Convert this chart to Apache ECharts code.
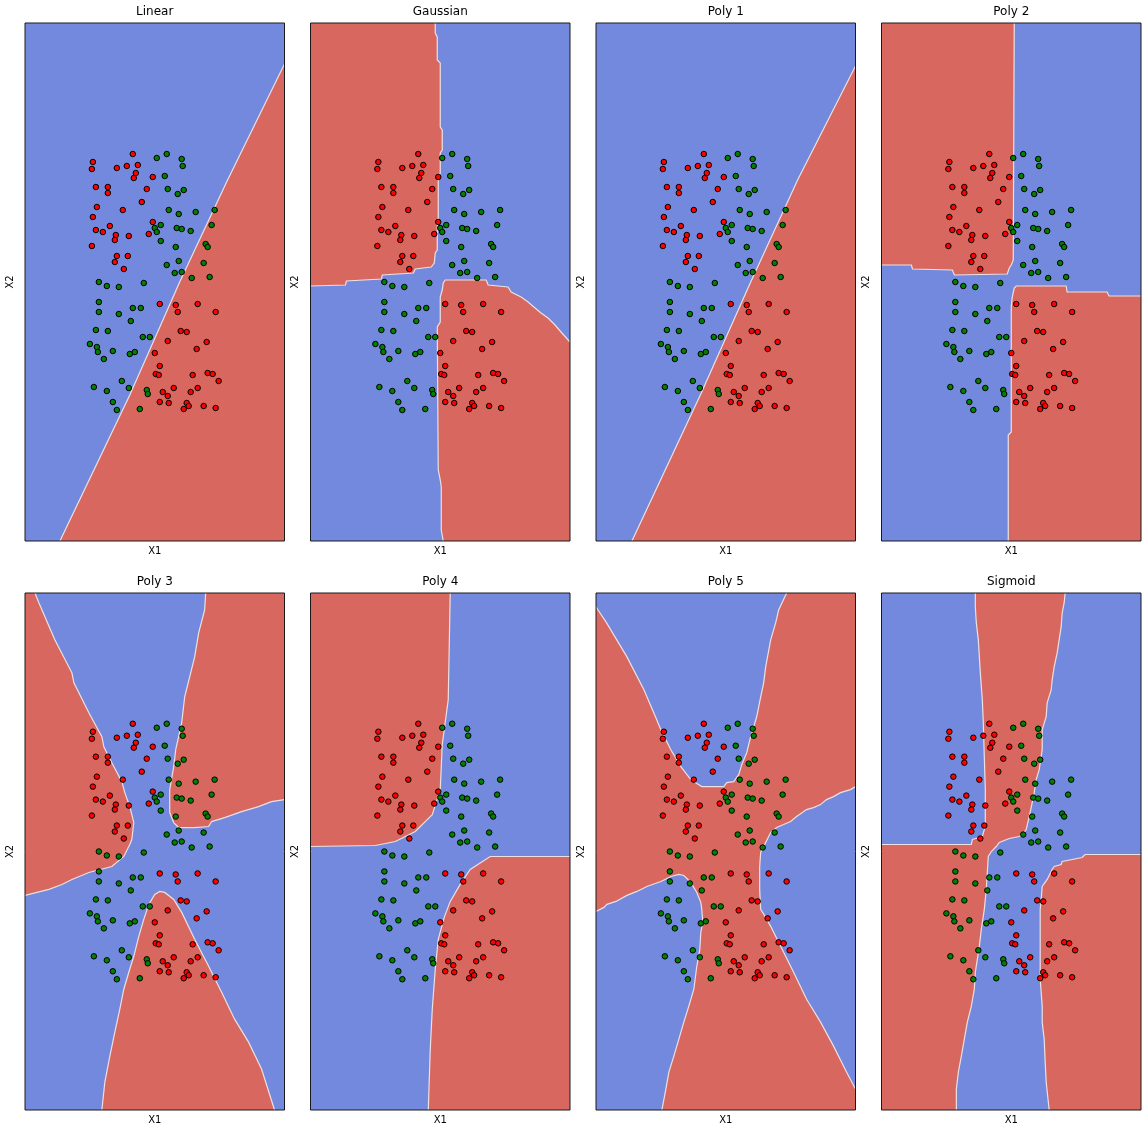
<!DOCTYPE html>
<html>
<head>
<meta charset="utf-8">
<script src="https://cdn.jsdelivr.net/npm/echarts@6/dist/echarts.min.js"></script>
<style>
html,body{margin:0;padding:0;background:#fff;}
#chart{width:1147px;height:1135px;}
</style>
</head>
<body>
<div id="chart"></div>
<script>
// ---------- data (X1 / X2 coordinates) ----------
const titles = ['Linear', 'Gaussian', 'Poly 1', 'Poly 2', 'Poly 3', 'Poly 4', 'Poly 5', 'Sigmoid'];
const xRange = [-130, 130];
const yRange = [-259, 259];

const redPoints = [
  [-22,128],[-62,120],[-63,113],[-38,114],[-28,116],[-17,117],[-19,109],[-21,104],[-2,105],[-59,95],
  [-47,95],[-47,89],[-8,93],[-13,80],[-58,75],[-62,65],[-32,72],[-2,60],[-45,56],[-59,52],
  [-52,50],[-39,47],[-26,46],[-6,48],[-40,42],[-63,36],[-38,26],[-27,26],[-40,20],[-31,13],
  [5,-22],[21,-23],[23,-30],[43,-22],[61,-30],[26,-49],[32,-50],[52,-60],[13,-59],[42,-67],
  [0,-71],[5,-84],[1,-92],[4,-93],[38,-93],[53,-91],[58,-92],[64,-99],[8,-110],[13,-114],
  [19,-106],[36,-110],[43,-106],[5,-120],[14,-121],[32,-121],[34,-124],[29,-127],[49,-124],[61,-126]
];
const greenPoints = [
  [12,128],[2,124],[27,123],[28,116],[10,106],[13,93],[29,92],[23,88],[60,72],[14,72],
  [24,68],[41,70],[6,57],[0,54],[2,50],[22,54],[27,53],[36,51],[57,57],[6,41],
  [21,35],[51,38],[53,35],[24,21],[49,19],[12,17],[20,9],[27,10],[37,4],[55,5],
  [-56,0],[-48,-4],[-36,-5],[-11,-1],[-56,-20],[-56,-30],[-36,-32],[-22,-26],[-14,-26],[-24,-39],
  [-59,-48],[-47,-49],[-12,-55],[-5,-55],[-65,-62],[-58,-65],[-57,-70],[-42,-69],[-25,-72],[-20,-70],
  [-51,-77],[-33,-99],[-61,-105],[-48,-109],[-26,-106],[-8,-108],[-7,-112],[-42,-120],[-38,-128],[-15,-127]
];

// decision regions (class of background, then polygons of the other class)
const panelBase = ['blue','blue','blue','blue','blue','blue','red','blue'];

const linearRed = [[-95,-259],[-25,-113],[25,0],[72,100],[130,218],[130,-259]];

const gaussianRedTL = [[-130,259],[-5,259],[-5,249],[-3,245],[-3,222],[0,219],[0,155],[2,152],[2,132],[0,129],[0,109],[-2,105],[-2,62],[-3,59],[-3,32],[-5,29],[-6,19],[-9,15],[-25,13],[-27,9],[-58,7],[-59,3],[-94,1],[-95,-3],[-130,-4]];
const gaussianRedBR = [[5,2],[46,2],[48,-3],[68,-5],[71,-10],[81,-15],[88,-20],[95,-26],[101,-31],[108,-36],[115,-43],[121,-50],[130,-60],[130,-259],[3,-259],[1,-248],[1,-205],[0,-198],[-2,-188],[-3,-45],[0,-40],[0,-15],[2,-8],[3,-1]];

const poly1Red = [[-94,-259],[-25,-112],[25,0],[72,102],[130,216],[130,-259]];

const poly2RedTL = [[-130,259],[3,259],[2,22],[0,17],[-2,14],[-4,8],[-57,7],[-59,12],[-99,13],[-100,17],[-130,17]];
const poly2RedBR = [[5,-4],[55,-4],[56,-10],[96,-10],[98,-14],[130,-14],[130,-259],[-3,-259],[-3,-153],[0,-150],[0,-25],[1,-15],[3,-6]];

const poly3RedL = [[-130,259],[-120,259],[-116,249],[-100,212],[-83,179],[-81,169],[-66,139],[-53,115],[-51,105],[-43,89],[-33,70],[-30,59],[-25,45],[-21,29],[-23,12],[-25,7],[-31,-5],[-43,-15],[-66,-21],[-83,-28],[-93,-33],[-106,-38],[-118,-41],[-130,-44]];
const poly3RedTR = [[51,259],[50,242],[44,219],[40,195],[35,175],[30,155],[27,129],[21,102],[19,85],[15,62],[15,39],[19,29],[24,24],[40,24],[54,25],[57,30],[70,34],[87,40],[104,45],[117,50],[130,52],[130,259]];
const poly3RedB = [[5,-40],[10,-41],[19,-48],[27,-61],[40,-88],[54,-115],[67,-141],[80,-168],[94,-191],[107,-218],[120,-259],[-53,-259],[-50,-231],[-45,-205],[-40,-181],[-35,-158],[-31,-138],[-26,-121],[-21,-105],[-16,-85],[-11,-68],[-6,-53],[0,-43]];

const poly4RedTL = [[-130,259],[10,259],[8,152],[2,107],[0,62],[-8,37],[-25,20],[-45,10],[-65,6],[-130,5]];
const poly4RedBR = [[130,-5],[50,-5],[30,-18],[20,-33],[10,-50],[4,-66],[-2,-88],[-5,-118],[-8,-158],[-10,-198],[-12,-259],[130,-259]];

const poly5BlueTop = [[-130,259],[-130,245],[-120,230],[-99,195],[-82,162],[-70,134],[-65,122],[-55,102],[-45,85],[-35,72],[-24,65],[-2,65],[1,69],[8,70],[13,77],[16,87],[21,99],[25,115],[31,135],[35,155],[38,169],[40,185],[45,212],[50,229],[53,242],[61,259]];
const poly5BlueRight = [[130,65],[125,62],[115,59],[108,55],[101,52],[95,47],[88,44],[81,42],[71,35],[65,30],[58,27],[51,24],[45,19],[40,9],[35,-1],[34,-15],[34,-38],[35,-58],[40,-66],[45,-75],[55,-95],[68,-121],[81,-148],[95,-171],[108,-195],[121,-221],[130,-238]];
const poly5BlueBL = [[-130,-60],[-122,-56],[-119,-53],[-110,-50],[-99,-44],[-89,-40],[-79,-35],[-65,-30],[-55,-25],[-47,-23],[-42,-24],[-35,-31],[-29,-41],[-25,-51],[-24,-58],[-23,-71],[-25,-81],[-26,-98],[-29,-115],[-32,-138],[-37,-155],[-42,-171],[-47,-188],[-52,-205],[-57,-221],[-60,-238],[-64,-259],[-130,-259]];

const sigmoidRedA = [[-36,259],[54,259],[53,249],[51,239],[50,225],[48,212],[46,199],[43,185],[41,172],[40,162],[36,149],[35,135],[31,122],[31,102],[28,82],[25,72],[23,59],[21,49],[18,35],[15,22],[11,17],[8,15],[-2,13],[-12,9],[-15,5],[-20,0],[-23,-5],[-24,-21],[-25,-38],[-27,-58],[-30,-78],[-32,-95],[-34,-108],[-36,-121],[-37,-138],[-40,-155],[-44,-171],[-47,-188],[-50,-205],[-53,-221],[-55,-238],[-55,-259],[-130,-259],[-130,7],[-40,7],[-39,12],[-32,14],[-29,15],[-27,22],[-26,29],[-26,62],[-27,95],[-28,129],[-29,152],[-31,179],[-33,212],[-35,229],[-36,245]];
const sigmoidRedB = [[130,-3],[74,-3],[71,-6],[51,-10],[50,-13],[43,-15],[41,-18],[36,-28],[31,-35],[30,-48],[29,-58],[29,-128],[31,-155],[31,-171],[33,-188],[34,-211],[35,-231],[38,-259],[130,-259]];

const panelRegions = [
  [linearRed],
  [gaussianRedTL, gaussianRedBR],
  [poly1Red],
  [poly2RedTL, poly2RedBR],
  [poly3RedL, poly3RedTR, poly3RedB],
  [poly4RedTL, poly4RedBR],
  [poly5BlueTop, poly5BlueRight, poly5BlueBL],
  [sigmoidRedA, sigmoidRedB]
];

// ---------- styling / layout ----------
const COLORS = { blue: '#7389de', red: '#d8685f' };
const FONT = 'DejaVu Sans';
const gridLefts = [25, 310.5, 596, 881.5];
const gridTops = [23, 593];
const GW = 259.5, GH = 518;

const fullRect = [[xRange[0], yRange[0]], [xRange[1], yRange[0]], [xRange[1], yRange[1]], [xRange[0], yRange[1]]];

function onSameEdge(a, b) {
  return (a[0] === xRange[0] && b[0] === xRange[0]) ||
         (a[0] === xRange[1] && b[0] === xRange[1]) ||
         (a[1] === yRange[0] && b[1] === yRange[0]) ||
         (a[1] === yRange[1] && b[1] === yRange[1]);
}

const LINE_STYLE = { stroke: '#ece0e0', lineWidth: 1.2, fill: null };

function makeRender(polys, colors) {
  return function (params, api) {
    const poly = polys[params.dataIndex];
    const fill = colors[params.dataIndex];
    const pts = poly.map(p => api.coord(p));
    const children = [{ type: 'polygon', shape: { points: pts }, style: { fill: fill } }];
    if (params.dataIndex > 0) {
      const n = poly.length;
      let start = 0;
      for (let i = 0; i < n; i++) { if (onSameEdge(poly[i], poly[(i + 1) % n])) { start = (i + 1) % n; break; } }
      let run = [];
      for (let k = 0; k < n; k++) {
        const i = (start + k) % n, j = (i + 1) % n;
        if (onSameEdge(poly[i], poly[j])) {
          if (run.length > 1) children.push({ type: 'polyline', shape: { points: run }, style: LINE_STYLE });
          run = [];
        } else {
          if (run.length === 0) run.push(pts[i]);
          run.push(pts[j]);
        }
      }
      if (run.length > 1) children.push({ type: 'polyline', shape: { points: run }, style: LINE_STYLE });
    }
    return { type: 'group', children: children };
  };
}

const grids = [], xAxes = [], yAxes = [], series = [], graphics = [];
for (let i = 0; i < 8; i++) {
  const col = i % 4, row = Math.floor(i / 4);
  const left = gridLefts[col], top = gridTops[row];
  grids.push({ left: left, top: top, width: GW, height: row === 0 ? GH : GH - 1, show: true, backgroundColor: 'transparent', borderColor: '#1a1a1a', borderWidth: 1, z: 10 });
  xAxes.push({ gridIndex: i, type: 'value', min: xRange[0], max: xRange[1], axisLine: { show: false }, axisTick: { show: false }, axisLabel: { show: false }, splitLine: { show: false },
    name: 'X1', nameLocation: 'middle', nameGap: 5, nameTextStyle: { color: '#000', fontSize: 10, fontFamily: FONT, verticalAlign: 'top' } });
  yAxes.push({ gridIndex: i, type: 'value', min: yRange[0], max: yRange[1], axisLine: { show: false }, axisTick: { show: false }, axisLabel: { show: false }, splitLine: { show: false },
    name: 'X2', nameLocation: 'middle', nameGap: 10, nameTextStyle: { color: '#000', fontSize: 10, fontFamily: FONT } });
  const other = panelBase[i] === 'blue' ? 'red' : 'blue';
  const polys = [fullRect].concat(panelRegions[i]);
  const cols = [COLORS[panelBase[i]]].concat(panelRegions[i].map(() => COLORS[other]));
  series.push({ type: 'custom', xAxisIndex: i, yAxisIndex: i, clip: true, silent: true, z: 1,
    renderItem: makeRender(polys, cols), data: polys.map((p, k) => [k]) });
  series.push({ type: 'scatter', xAxisIndex: i, yAxisIndex: i, data: redPoints, symbolSize: 5.5, z: 3,
    itemStyle: { color: '#ff0000', borderColor: '#000', borderWidth: 1, opacity: 1 } });
  series.push({ type: 'scatter', xAxisIndex: i, yAxisIndex: i, data: greenPoints, symbolSize: 5.5, z: 3,
    itemStyle: { color: '#008000', borderColor: '#000', borderWidth: 1, opacity: 1 } });
  graphics.push({ type: 'text', x: left + GW / 2, y: top - 11, style: { text: titles[i], textAlign: 'center', textVerticalAlign: 'middle', font: '12px "' + FONT + '"', fill: '#000' } });
}

const chart = echarts.init(document.getElementById('chart'), null, { renderer: 'canvas' });
chart.setOption({
  animation: false,
  backgroundColor: '#fff',
  grid: grids,
  xAxis: xAxes,
  yAxis: yAxes,
  series: series,
  graphic: graphics
});
</script>
</body>
</html>
